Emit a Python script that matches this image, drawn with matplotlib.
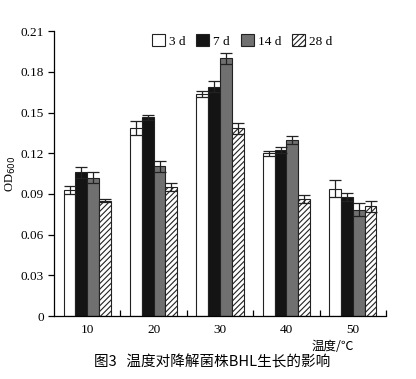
import numpy as np
import matplotlib.pyplot as plt

plt.rcParams['font.family'] = ['Liberation Serif', 'Noto Sans CJK SC']
plt.rcParams['hatch.linewidth'] = 0.8

temps = [10, 20, 30, 40, 50]
series = ['3 d', '7 d', '14 d', '28 d']
vals = [
    [0.093, 0.1385, 0.1635, 0.120, 0.094],
    [0.106, 0.1465, 0.169, 0.1225, 0.0875],
    [0.102, 0.1105, 0.190, 0.1295, 0.0785],
    [0.085, 0.095, 0.1385, 0.0865, 0.081],
]
errs = [
    [0.003, 0.005, 0.002, 0.002, 0.006],
    [0.004, 0.002, 0.004, 0.002, 0.003],
    [0.004, 0.004, 0.004, 0.003, 0.005],
    [0.001, 0.003, 0.004, 0.003, 0.004],
]
yticks = [0, 0.03, 0.06, 0.09, 0.12, 0.15, 0.18, 0.21]
ytick_labels = ['0', '0.03', '0.06', '0.09', '0.12', '0.15', '0.18', '0.21']

fills = ['white', '#141414', '#707070', 'white']
hatches = [None, None, None, '//////']

fig = plt.figure(figsize=(4.16, 3.79), dpi=100)
ax = fig.add_axes([0.130, 0.166, 0.798, 0.752])

w = 1.78
x = np.array(temps, dtype=float)
for i in range(4):
    pos = x + (i - 1.5) * w
    ax.bar(pos, vals[i], width=w, color=fills[i], edgecolor='#222222',
           linewidth=0.8, hatch=hatches[i], label=series[i],
           yerr=errs[i], capsize=4.5,
           error_kw=dict(elinewidth=0.9, capthick=0.9, ecolor='#222222'))

ax.set_xlim(5, 55)
ax.set_ylim(0, 0.21)
ax.set_yticks(yticks)
ax.set_yticklabels(ytick_labels)
ax.set_xticks(temps)
ax.set_xticklabels([str(t) for t in temps])
ax.set_xticks([15, 25, 35, 45, 55], minor=True)
ax.tick_params(axis='x', which='major', length=0, labelsize=9.5, pad=6)
ax.tick_params(axis='x', which='minor', direction='in', length=4, width=0.9)
ax.tick_params(axis='y', direction='out', length=4, width=0.9, labelsize=9.5)
for s in ['top', 'right']:
    ax.spines[s].set_visible(False)
ax.spines['left'].set_linewidth(0.9)
ax.spines['bottom'].set_linewidth(0.9)

ax.set_ylabel('OD$_{600}$', fontsize=9, labelpad=2)
ax.text(0.84, -0.085, '温度/℃', transform=ax.transAxes, fontsize=9,
        ha='center', va='top', family=['Noto Sans CJK SC', 'DejaVu Sans'])

ax.legend(loc='upper center', bbox_to_anchor=(0.566, 1.03), ncol=4,
          frameon=False, fontsize=9.5, handlelength=1.0, handleheight=1.0,
          handletextpad=0.3, columnspacing=0.8)

fig.text(0.51, 0.043, '图3   温度对降解菌株BHL生长的影响', ha='center',
         va='center', fontsize=10.5, family=['Noto Sans CJK SC', 'DejaVu Sans'])

fig.savefig('out.png', dpi=100, facecolor='white')
